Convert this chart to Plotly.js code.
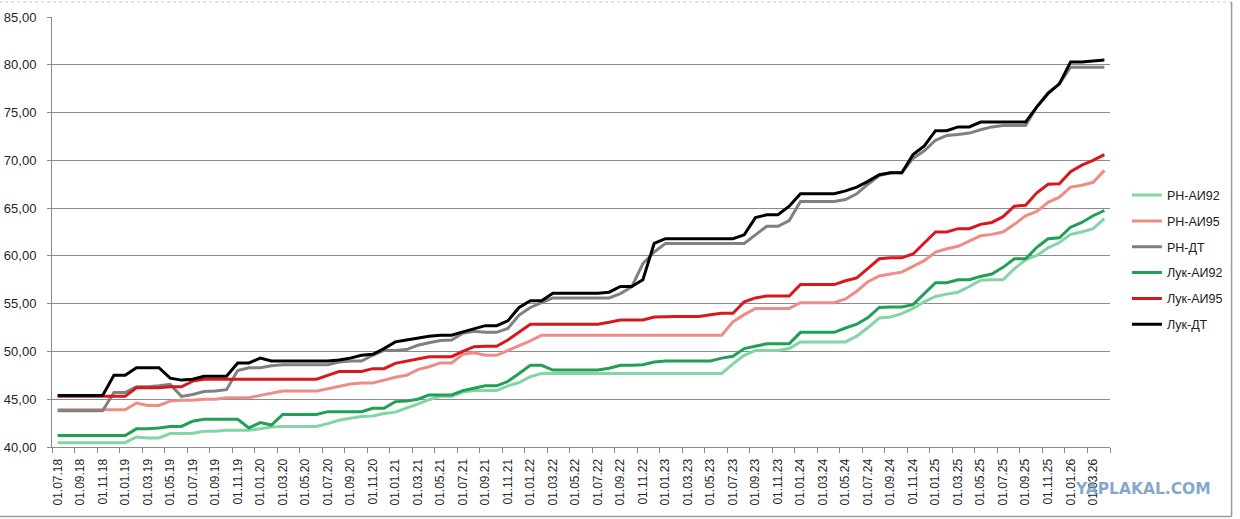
<!DOCTYPE html>
<html>
<head>
<meta charset="utf-8">
<script src="https://cdn.plot.ly/plotly-3.0.1.min.js"></script>
<style>html,body{margin:0;padding:0;background:#fff;}#chart{width:1240px;height:519px;}</style>
</head>
<body>
<div id="chart"></div>
<script>
var months = [
"01.07.18","01.08.18","01.09.18","01.10.18","01.11.18","01.12.18",
"01.01.19","01.02.19","01.03.19","01.04.19","01.05.19","01.06.19","01.07.19","01.08.19","01.09.19","01.10.19","01.11.19","01.12.19",
"01.01.20","01.02.20","01.03.20","01.04.20","01.05.20","01.06.20","01.07.20","01.08.20","01.09.20","01.10.20","01.11.20","01.12.20",
"01.01.21","01.02.21","01.03.21","01.04.21","01.05.21","01.06.21","01.07.21","01.08.21","01.09.21","01.10.21","01.11.21","01.12.21",
"01.01.22","01.02.22","01.03.22","01.04.22","01.05.22","01.06.22","01.07.22","01.08.22","01.09.22","01.10.22","01.11.22","01.12.22",
"01.01.23","01.02.23","01.03.23","01.04.23","01.05.23","01.06.23","01.07.23","01.08.23","01.09.23","01.10.23","01.11.23","01.12.23",
"01.01.24","01.02.24","01.03.24","01.04.24","01.05.24","01.06.24","01.07.24","01.08.24","01.09.24","01.10.24","01.11.24","01.12.24",
"01.01.25","01.02.25","01.03.25","01.04.25","01.05.25","01.06.25","01.07.25","01.08.25","01.09.25","01.10.25","01.11.25","01.12.25",
"01.01.26","01.02.26","01.03.26","01.04.26"
];

var rnAi92 = [
40.45,40.45,40.45,40.45,40.45,40.45,40.45,
41.05,40.95,40.95,41.4,41.4,41.45,41.65,41.65,41.75,41.75,41.75,
41.9,42.1,42.15,42.15,42.15,42.15,42.45,42.8,43.0,43.2,43.25,43.5,
43.65,44.05,44.5,44.95,45.3,45.3,45.75,45.9,45.9,45.9,46.4,46.75,
47.35,47.7,47.7,47.7,47.7,47.7,47.7,47.7,47.7,47.7,47.7,47.7,
47.7,47.7,47.7,47.7,47.7,47.7,48.7,49.6,50.1,50.1,50.1,50.3,
51.0,51.0,51.0,51.0,51.0,51.6,52.5,53.5,53.6,53.95,54.5,55.2,
55.75,56.0,56.2,56.8,57.45,57.5,57.5,58.65,59.6,60.05,60.85,61.4,
62.25,62.5,62.85,63.9
];
var rnAi95 = [
43.9,43.9,43.9,43.9,43.9,43.9,43.9,
44.6,44.35,44.35,44.8,44.9,44.9,45.0,45.0,45.15,45.15,45.15,
45.4,45.6,45.85,45.85,45.85,45.85,46.1,46.35,46.6,46.7,46.7,47.0,
47.3,47.5,48.1,48.4,48.8,48.8,49.7,49.85,49.6,49.6,50.1,50.55,
51.1,51.7,51.7,51.7,51.7,51.7,51.7,51.7,51.7,51.7,51.7,51.7,
51.7,51.7,51.7,51.7,51.7,51.7,53.1,53.85,54.5,54.5,54.5,54.5,
55.1,55.1,55.1,55.1,55.5,56.3,57.3,57.9,58.1,58.3,58.9,59.5,
60.4,60.75,61.0,61.55,62.1,62.25,62.5,63.3,64.2,64.65,65.6,66.15,
67.2,67.4,67.7,68.95
];
var rnDt = [
43.8,43.8,43.8,43.8,43.8,45.7,45.7,
46.3,46.3,46.4,46.55,45.3,45.5,45.8,45.85,46.0,48.0,48.3,
48.3,48.5,48.6,48.6,48.6,48.6,48.6,48.9,49.0,49.0,49.6,50.1,
50.1,50.2,50.65,50.9,51.15,51.2,51.9,52.1,52.0,52.0,52.4,53.8,
54.6,55.1,55.6,55.6,55.6,55.6,55.6,55.6,56.05,56.75,59.2,60.4,
61.3,61.3,61.3,61.3,61.3,61.3,61.3,61.3,62.2,63.1,63.1,63.7,
65.7,65.7,65.7,65.7,65.9,66.5,67.5,68.4,68.7,68.7,70.2,71.0,
72.1,72.6,72.7,72.85,73.2,73.5,73.65,73.65,73.65,75.6,77.1,78.0,
79.75,79.75,79.75,79.75
];
var lukAi92 = [
41.2,41.2,41.2,41.2,41.2,41.2,41.2,
41.9,41.9,42.0,42.15,42.15,42.7,42.9,42.9,42.9,42.9,42.0,
42.55,42.3,43.4,43.4,43.4,43.4,43.7,43.7,43.7,43.7,44.05,44.05,
44.75,44.8,45.0,45.45,45.45,45.45,45.9,46.15,46.4,46.4,46.85,47.7,
48.55,48.55,48.05,48.05,48.05,48.05,48.05,48.25,48.55,48.55,48.6,48.9,
49.0,49.0,49.0,49.0,49.0,49.3,49.5,50.3,50.55,50.8,50.8,50.8,
52.0,52.0,52.0,52.0,52.45,52.85,53.55,54.6,54.65,54.65,54.9,56.1,
57.2,57.2,57.5,57.5,57.85,58.1,58.8,59.7,59.7,60.9,61.8,61.9,
63.0,63.5,64.2,64.75
];
var lukAi95 = [
45.3,45.3,45.3,45.3,45.3,45.3,45.3,
46.2,46.2,46.2,46.3,46.3,46.9,47.1,47.1,47.1,47.1,47.1,
47.1,47.1,47.1,47.1,47.1,47.1,47.5,47.9,47.9,47.9,48.2,48.2,
48.75,49.0,49.2,49.45,49.45,49.45,50.0,50.5,50.55,50.55,51.2,52.05,
52.85,52.85,52.85,52.85,52.85,52.85,52.85,53.05,53.3,53.3,53.3,53.6,
53.65,53.65,53.65,53.65,53.85,54.0,54.0,55.2,55.6,55.8,55.8,55.8,
57.0,57.0,57.0,57.0,57.4,57.7,58.7,59.7,59.8,59.8,60.2,61.4,
62.5,62.5,62.85,62.85,63.3,63.5,64.1,65.2,65.3,66.6,67.5,67.55,
68.8,69.5,70.0,70.6
];
var lukDt = [
45.4,45.4,45.4,45.4,45.4,47.5,47.5,
48.3,48.3,48.3,47.2,47.0,47.1,47.4,47.4,47.4,48.8,48.8,
49.3,49.0,49.0,49.0,49.0,49.0,49.0,49.1,49.3,49.6,49.7,50.3,
51.0,51.2,51.4,51.6,51.7,51.7,52.05,52.4,52.7,52.7,53.2,54.6,
55.3,55.3,56.1,56.1,56.1,56.1,56.1,56.2,56.8,56.8,57.5,61.3,
61.8,61.8,61.8,61.8,61.8,61.8,61.8,62.2,64.0,64.3,64.3,65.2,
66.5,66.5,66.5,66.5,66.8,67.2,67.8,68.5,68.7,68.7,70.6,71.5,
73.1,73.1,73.5,73.5,74.0,74.0,74.0,74.0,74.0,75.6,77.0,78.0,
80.3,80.3,80.4,80.5
];

var seriesNames = ["РН-АИ92","РН-АИ95","РН-ДТ","Лук-АИ92","Лук-АИ95","Лук-ДТ"];
var seriesColors = ["#84d4a6","#ee8c86","#808080","#1fa055","#d8181d","#000000"];
var seriesValues = [rnAi92, rnAi95, rnDt, lukAi92, lukAi95, lukDt];

var xIdx = months.map(function(_, i){ return i; });
var tickVals = [], tickText = [], minorVals = [];
for (var i = 0; i < months.length; i += 2) {
  tickVals.push(i); tickText.push(months[i]); minorVals.push(i - 0.5);
}
minorVals.push(months.length - 0.5);

var traces = seriesValues.map(function(vals, k){
  return {
    type: 'scatter', mode: 'lines', x: xIdx, y: vals,
    name: seriesNames[k], legendgroup: 'g' + k,
    line: {color: seriesColors[k], width: 3},
    hoverinfo: 'skip'
  };
});

var layout = {
  width: 1240, height: 519,
  margin: {l: 52, r: 126, t: 17, b: 72, pad: 0},
  separators: ', ',
  paper_bgcolor: '#ffffff', plot_bgcolor: '#ffffff',
  showlegend: true,
  xaxis: {
    type: 'linear', range: [-0.5, months.length - 0.5],
    tickmode: 'array', tickvals: tickVals, ticktext: tickText,
    tickangle: -90, ticks: '', showgrid: false, zeroline: false,
    showline: true, linecolor: '#8a8a8a', linewidth: 1,
    tickfont: {family: 'Liberation Sans, Arial, sans-serif', size: 12, color: '#262626'},
    ticklabelstandoff: 6,
    minor: {tickmode: 'array', tickvals: minorVals, ticks: 'outside', ticklen: 5, tickcolor: '#8a8a8a', tickwidth: 1, showgrid: false}
  },
  yaxis: {
    range: [40, 85], tick0: 40, dtick: 5, tickformat: '.2f',
    showgrid: true, gridcolor: '#8a8a8a', gridwidth: 1, zeroline: false,
    showline: true, linecolor: '#8a8a8a', linewidth: 1,
    ticks: 'outside', ticklen: 4, tickcolor: '#8a8a8a',
    tickfont: {family: 'Liberation Sans, Arial, sans-serif', size: 13, color: '#262626'},
    ticklabelstandoff: 8
  },
  legend: {
    x: 1.016, xanchor: 'left', y: 0.62, yanchor: 'top',
    traceorder: 'grouped', tracegroupgap: 6.6,
    bgcolor: 'rgba(0,0,0,0)', borderwidth: 0,
    font: {family: 'Liberation Sans, Arial, sans-serif', size: 12.5, color: '#222'}
  },
  annotations: [{
    xref: 'paper', yref: 'paper', x: 0.965, y: -0.0977,
    xanchor: 'left', yanchor: 'middle', showarrow: false,
    text: '<b>YAPLAKAL.COM</b>',
    font: {family: 'DejaVu Sans, sans-serif', size: 15.5, color: 'rgba(110,152,192,0.85)'}
  }],
  shapes: [
    {type: 'line', xref: 'paper', yref: 'paper', x0: 1.1149, x1: 1.1149, y0: -0.1616, y1: 1.035, line: {color: '#9a9a9a', width: 1.5}},
    {type: 'line', xref: 'paper', yref: 'paper', x0: -0.05, x1: 1.1149, y0: -0.1616, y1: -0.1616, line: {color: '#9a9a9a', width: 1.5}},
    {type: 'line', xref: 'paper', yref: 'paper', x0: -0.05, x1: 1.1149, y0: 1.035, y1: 1.035, line: {color: '#c4c4c4', width: 1, dash: 'dot'}}
  ]
};

Plotly.newPlot('chart', traces, layout, {displayModeBar: false, staticPlot: true});
</script>
</body>
</html>
